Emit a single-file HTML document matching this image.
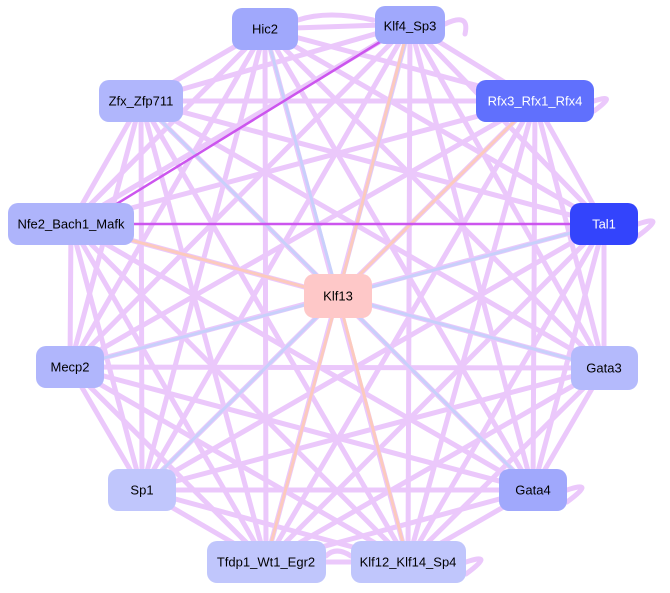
<!DOCTYPE html>
<html><head><meta charset="utf-8"><style>
html,body{margin:0;padding:0;background:#fff;width:670px;height:593px;overflow:hidden}
text{font-family:"Liberation Sans",sans-serif;font-size:13px;text-anchor:middle;dominant-baseline:central}
</style></head><body>
<svg width="670" height="593" viewBox="0 0 670 593" xmlns="http://www.w3.org/2000/svg">
<g stroke="#ebc8fb" stroke-width="5" fill="none" stroke-linecap="round">
<line x1="265" y1="29" x2="410" y2="24"/><line x1="265" y1="29" x2="141" y2="101"/><line x1="265" y1="29" x2="535" y2="101"/><line x1="265" y1="29" x2="71" y2="224"/><line x1="265" y1="29" x2="604" y2="224"/><line x1="265" y1="29" x2="70" y2="367"/><line x1="265" y1="29" x2="604" y2="368"/><line x1="265" y1="29" x2="142" y2="490"/><line x1="265" y1="29" x2="533" y2="490"/><line x1="265" y1="29" x2="266" y2="562"/><line x1="265" y1="29" x2="408" y2="562"/>
<line x1="410" y1="24" x2="141" y2="101"/><line x1="410" y1="24" x2="535" y2="101"/><line x1="410" y1="24" x2="71" y2="224"/><line x1="410" y1="24" x2="604" y2="224"/><line x1="410" y1="24" x2="70" y2="367"/><line x1="410" y1="24" x2="604" y2="368"/><line x1="410" y1="24" x2="142" y2="490"/><line x1="410" y1="24" x2="533" y2="490"/><line x1="410" y1="24" x2="266" y2="562"/><line x1="410" y1="24" x2="408" y2="562"/>
<line x1="141" y1="101" x2="535" y2="101"/><line x1="141" y1="101" x2="71" y2="224"/><line x1="141" y1="101" x2="604" y2="224"/><line x1="141" y1="101" x2="70" y2="367"/><line x1="141" y1="101" x2="604" y2="368"/><line x1="141" y1="101" x2="142" y2="490"/><line x1="141" y1="101" x2="533" y2="490"/><line x1="141" y1="101" x2="266" y2="562"/><line x1="141" y1="101" x2="408" y2="562"/>
<line x1="535" y1="101" x2="71" y2="224"/><line x1="535" y1="101" x2="604" y2="224"/><line x1="535" y1="101" x2="70" y2="367"/><line x1="535" y1="101" x2="604" y2="368"/><line x1="535" y1="101" x2="142" y2="490"/><line x1="535" y1="101" x2="533" y2="490"/><line x1="535" y1="101" x2="266" y2="562"/><line x1="535" y1="101" x2="408" y2="562"/>
<line x1="71" y1="224" x2="70" y2="367"/><line x1="71" y1="224" x2="604" y2="368"/><line x1="71" y1="224" x2="142" y2="490"/><line x1="71" y1="224" x2="533" y2="490"/><line x1="71" y1="224" x2="266" y2="562"/><line x1="71" y1="224" x2="408" y2="562"/>
<line x1="604" y1="224" x2="70" y2="367"/><line x1="604" y1="224" x2="604" y2="368"/><line x1="604" y1="224" x2="142" y2="490"/><line x1="604" y1="224" x2="533" y2="490"/><line x1="604" y1="224" x2="266" y2="562"/><line x1="604" y1="224" x2="408" y2="562"/>
<line x1="70" y1="367" x2="604" y2="368"/><line x1="70" y1="367" x2="142" y2="490"/><line x1="70" y1="367" x2="533" y2="490"/><line x1="70" y1="367" x2="266" y2="562"/><line x1="70" y1="367" x2="408" y2="562"/>
<line x1="604" y1="368" x2="142" y2="490"/><line x1="604" y1="368" x2="533" y2="490"/><line x1="604" y1="368" x2="266" y2="562"/><line x1="604" y1="368" x2="408" y2="562"/>
<line x1="142" y1="490" x2="533" y2="490"/><line x1="142" y1="490" x2="266" y2="562"/><line x1="142" y1="490" x2="408" y2="562"/>
<line x1="533" y1="490" x2="266" y2="562"/><line x1="533" y1="490" x2="408" y2="562"/>
<line x1="266" y1="562" x2="408" y2="562"/>
<path d="M445 24 q25 -12 20 10" /><path d="M594 101 q25 -8 0 10"/><path d="M638 224 q30 -10 0 12"/><path d="M567 490 q30 -10 0 12"/><path d="M466 562 q30 -10 0 12"/><path d="M298 20 q30 -10 75 0"/><path d="M326 556 q10 -10 25 0"/>
</g>
<g stroke="#c8d0fb" stroke-width="3">
<line x1="265" y1="29" x2="338" y2="296"/><line x1="410" y1="24" x2="338" y2="296"/><line x1="141" y1="101" x2="338" y2="296"/><line x1="604" y1="224" x2="338" y2="296"/><line x1="70" y1="367" x2="338" y2="296"/><line x1="604" y1="368" x2="338" y2="296"/><line x1="142" y1="490" x2="338" y2="296"/><line x1="533" y1="490" x2="338" y2="296"/>
</g>
<g stroke="#fccabd" stroke-width="3">
<line x1="338" y1="296" x2="71" y2="224"/><line x1="338" y1="296" x2="535" y2="101"/><line x1="338" y1="296" x2="405" y2="40"/><line x1="338" y1="296" x2="266" y2="562"/><line x1="338" y1="296" x2="408" y2="562"/>
</g>
<g stroke="#cc55ee" stroke-width="2.5"><line x1="134" y1="224" x2="570" y2="224"/><line x1="110" y1="208" x2="380" y2="42"/></g>
<g font-size="13">
<rect x="232" y="8" width="66" height="42" rx="10" fill="#a0a8fc"/><text x="265" y="29">Hic2</text>
<rect x="375" y="6" width="70" height="38" rx="10" fill="#a0a8fc"/><text x="410" y="26">Klf4_Sp3</text>
<rect x="99" y="80" width="84" height="42" rx="10" fill="#b0b6fc"/><text x="141" y="101">Zfx_Zfp711</text>
<rect x="476" y="80" width="118" height="42" rx="10" fill="#6070fd"/><text x="535" y="101" fill="#fff">Rfx3_Rfx1_Rfx4</text>
<rect x="8" y="203" width="126" height="42" rx="10" fill="#aeb4fb"/><text x="71" y="224">Nfe2_Bach1_Mafk</text>
<rect x="570" y="203" width="68" height="42" rx="10" fill="#3344fc"/><text x="604" y="224" fill="#fff">Tal1</text>
<rect x="304" y="274" width="68" height="44" rx="10" fill="#fec8c8"/><text x="338" y="296">Klf13</text>
<rect x="36" y="346" width="68" height="42" rx="10" fill="#b0b6fc"/><text x="70" y="367">Mecp2</text>
<rect x="571" y="346" width="67" height="44" rx="10" fill="#b4bafc"/><text x="604" y="368">Gata3</text>
<rect x="108" y="469" width="68" height="42" rx="10" fill="#c0c6fc"/><text x="142" y="490">Sp1</text>
<rect x="499" y="469" width="68" height="42" rx="10" fill="#a0a8fc"/><text x="533" y="490">Gata4</text>
<rect x="207" y="541" width="119" height="42" rx="10" fill="#c0c6fc"/><text x="266" y="562">Tfdp1_Wt1_Egr2</text>
<rect x="351" y="541" width="115" height="42" rx="10" fill="#c0c6fc"/><text x="408" y="562">Klf12_Klf14_Sp4</text>
</g>
</svg>
</body></html>
